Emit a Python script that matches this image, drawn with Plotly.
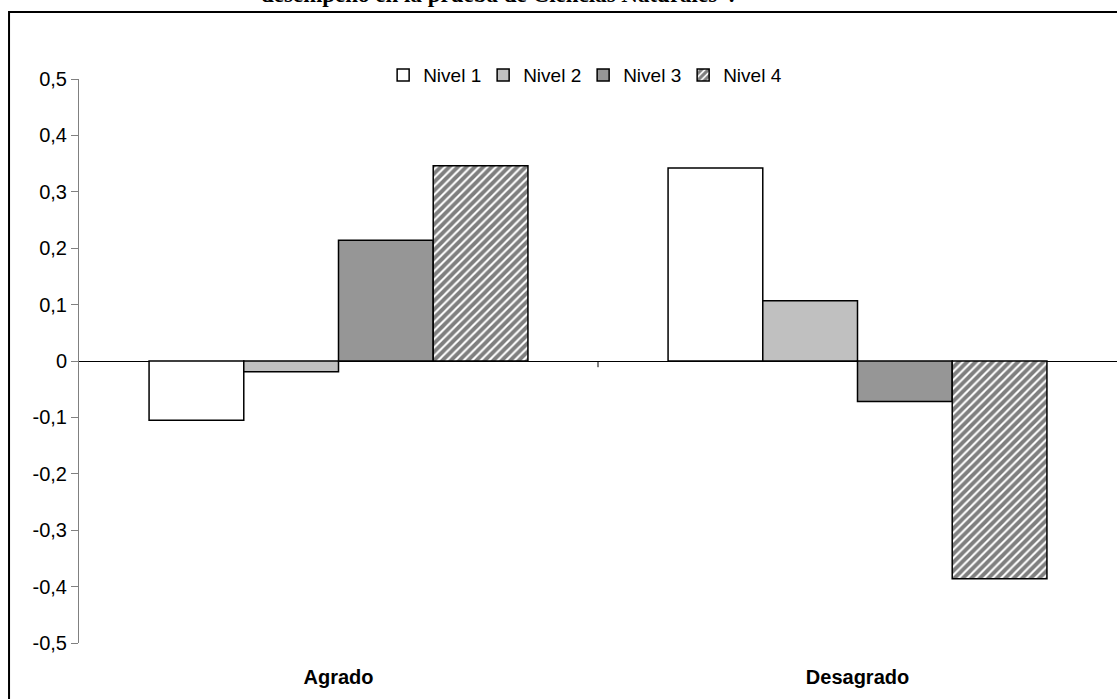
import plotly.graph_objects as go

categories = ["Agrado", "Desagrado"]
series_names = ["Nivel 1", "Nivel 2", "Nivel 3", "Nivel 4"]
nivel1 = [-0.105, 0.342]
nivel2 = [-0.019, 0.107]
nivel3 = [0.214, -0.072]
nivel4 = [0.346, -0.386]
y_tickvals = [0.5, 0.4, 0.3, 0.2, 0.1, 0, -0.1, -0.2, -0.3, -0.4, -0.5]
y_ticktext = ["0,5", "0,4", "0,3", "0,2", "0,1", "0", "-0,1", "-0,2", "-0,3", "-0,4", "-0,5"]
title_text = "desempeño en la prueba de Ciencias Naturales\u201d."

values = [nivel1, nivel2, nivel3, nivel4]
fills = ["#FFFFFF", "#C0C0C0", "#969696", "#FFFFFF"]

fig = go.Figure()
for i, (name, vals) in enumerate(zip(series_names, values)):
    marker = dict(color=fills[i], line=dict(color="#000000", width=1.5))
    if i == 3:
        marker["pattern"] = dict(shape="/", fgcolor="#000000", bgcolor="#FFFFFF",
                                 size=6, solidity=0.65, fillmode="overlay")
    fig.add_trace(go.Bar(name=name, x=categories, y=vals, marker=marker))

fig.update_layout(
    width=1117, height=699,
    margin=dict(l=79, r=0, t=79, b=56),
    paper_bgcolor="white", plot_bgcolor="white",
    barmode="group", bargap=0.27, bargroupgap=0,
    font=dict(family="Liberation Sans, Arial, sans-serif", color="#000000"),
    showlegend=True,
    legend=dict(orientation="h", x=0.293, xanchor="left", y=1.007, yanchor="middle",
                font=dict(size=19), bgcolor="rgba(0,0,0,0)",
                itemwidth=30, tracegroupgap=0, entrywidth=55),
    annotations=[dict(text=title_text, xref="paper", yref="paper",
                      x=0.403, y=1.124, xanchor="center", yanchor="bottom",
                      showarrow=False,
                      font=dict(family="Liberation Serif, Times New Roman, serif",
                                size=23, weight="bold"))],
    shapes=[
        dict(type="rect", xref="paper", yref="paper", x0=-0.0674, x1=1.02,
             y0=-0.3, y1=1.1188, line=dict(color="#000000", width=2),
             fillcolor="rgba(0,0,0,0)", layer="below"),
        dict(type="line", xref="x", yref="y", x0=0.5, x1=0.5, y0=0, y1=-0.011,
             line=dict(color="#000000", width=1)),
    ],
)
fig.update_yaxes(range=[-0.5, 0.5], tickvals=y_tickvals, ticktext=y_ticktext,
                 showline=True, linecolor="#808080", linewidth=1,
                 ticks="outside", ticklen=7, tickcolor="#808080",
                 tickfont=dict(size=20), showgrid=False,
                 zeroline=True, zerolinecolor="#000000", zerolinewidth=1)
fig.update_xaxes(showline=False, ticks="", showgrid=False,
                 tickfont=dict(size=20, weight="bold"), ticklabelstandoff=20)

fig.write_html("out.html", config={"displayModeBar": False},
               post_script="document.body.style.margin='0';")
